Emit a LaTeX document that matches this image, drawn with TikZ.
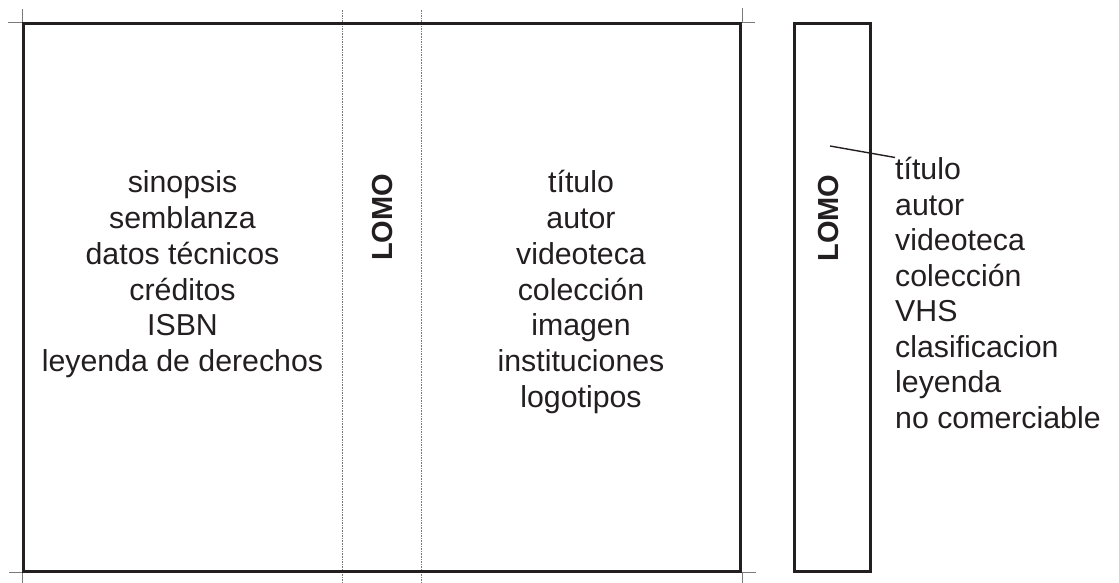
\documentclass[tikz,border=0pt]{standalone}
\usepackage{fontspec}
\setmainfont{Liberation Sans}
\definecolor{ink}{HTML}{231F20}
\definecolor{cropgray}{HTML}{7A7A7A}
\begin{document}
\begin{tikzpicture}[x=1pt,y=1pt,
  panel/.style={draw=ink, line width=3pt},
  fold/.style={draw=cropgray, line width=0.8pt, dash pattern=on 1.6pt off 1pt},
  crop/.style={draw=cropgray, line width=0.9pt},
  spine/.style={rotate=90, inner sep=0pt, text=ink, font=\fontsize{29}{34}\selectfont\bfseries},
  block/.style={inner sep=0pt, text=ink},
  lead/.style={draw=ink, line width=1.4pt}]
\useasboundingbox (0,0) rectangle (1119,583);
% fold lines
\draw[fold] (342,573) -- (342,0);
\draw[fold] (421,573) -- (421,0);
% crop marks
\draw[crop] (8,561) -- (22,561) (22,574) -- (22,561);
\draw[crop] (742,575) -- (742,561) (742,561) -- (755,561);
\draw[crop] (9,11) -- (22,11) (22,11) -- (22,0);
\draw[crop] (742,11) -- (756,11) (742,11) -- (742,0);
% cover
\draw[panel] (23.5,559.5) rectangle (740.5,11.5);
% side box
\draw[panel] (794.5,559.5) rectangle (870.5,11.5);
% texts
\node[block, anchor=base] (back) at (182.5,390)
  {\parbox[t]{320pt}{\centering\fontsize{30.3}{35.7}\selectfont sinopsis\\semblanza\\datos técnicos\\créditos\\ISBN\\leyenda de derechos}};
\node[block, anchor=base] (front) at (581,390)
  {\parbox[t]{320pt}{\centering\fontsize{30.3}{35.7}\selectfont título\\autor\\videoteca\\colección\\imagen\\instituciones\\logotipos}};
\node[block, anchor=base west] (side) at (895,403)
  {\parbox[t]{220pt}{\raggedright\fontsize{30.3}{35.5}\selectfont título\\autor\\videoteca\\colección\\VHS\\clasificacion\\leyenda\\no comerciable}};
\node[spine] (lomo1) at (382.5,365.5) {LOMO};
\node[spine] (lomo2) at (829,365) {LOMO};
\coordinate (leadstart) at (830,437);
\draw[lead] (leadstart) -- (side.north west);
\end{tikzpicture}
\end{document}
